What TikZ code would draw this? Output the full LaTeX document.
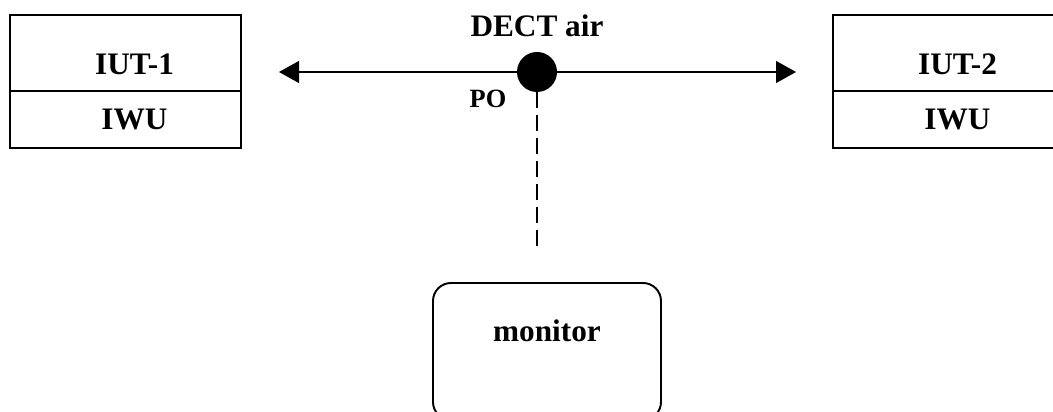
\documentclass[tikz,border=0pt]{standalone}
\usepackage{fontspec}
\setmainfont{Liberation Serif}
\usetikzlibrary{arrows.meta,positioning}
\tikzset{
  unit/.style={draw, line width=1.1pt, outer sep=0pt, inner sep=0pt, minimum width=4.62cm, font=\bfseries\fontsize{17.8}{20}\selectfont, execute at begin node=\hspace*{0.36cm}},
  unittop/.style={unit, minimum height=1.52cm, text height=0.88cm, text depth=0pt},
  unitbottom/.style={unit, minimum height=1.14cm},
  probe/.style={circle, fill=black, minimum size=0.8cm, inner sep=0pt},
  tag/.style={inner sep=0pt, font=\bfseries\fontsize{17.8}{20}\selectfont},
  smalltag/.style={inner sep=0pt, font=\bfseries\fontsize{15}{17}\selectfont},
  monitorbox/.style={draw, line width=1.1pt, rounded corners=0.36cm, minimum width=4.56cm, minimum height=2.74cm, text height=0.3cm, text depth=0.68cm, font=\bfseries\fontsize{17.8}{20}\selectfont},
  arrow/.style={-{Triangle[length=0.4cm, width=0.44cm]}, line width=0.6pt},
  tapline/.style={dash pattern=on 0.32cm off 0.14cm, line width=1.1pt}
}
\begin{document}
\begin{tikzpicture}
  \useasboundingbox (0,0) rectangle (21.06,-8.24);

  \node[unittop] (iut1) at (2.51,-1.06) {IUT-1};
  \node[unitbottom, below=0pt of iut1] (iwu1) {IWU};
  \node[unittop] (iut2) at (18.97,-1.06) {IUT-2};
  \node[unitbottom, below=0pt of iut2] (iwu2) {IWU};

  \node[probe] (po) at (10.74,-1.44) {};
  \node[tag] (air) at (10.74,-0.52) {DECT air};
  \node[smalltag] (potag) at (9.76,-1.97) {PO};

  \coordinate (lend) at (5.58,-1.44);
  \coordinate (rend) at (15.92,-1.44);
  \coordinate (tap) at (10.74,-4.92);

  \node[monitorbox] (monitor) at (10.94,-7.03) {monitor};

  \draw[arrow] (po) -- (lend);
  \draw[arrow] (po) -- (rend);
  \draw[tapline] (po.south) -- (tap);
\end{tikzpicture}
\end{document}
